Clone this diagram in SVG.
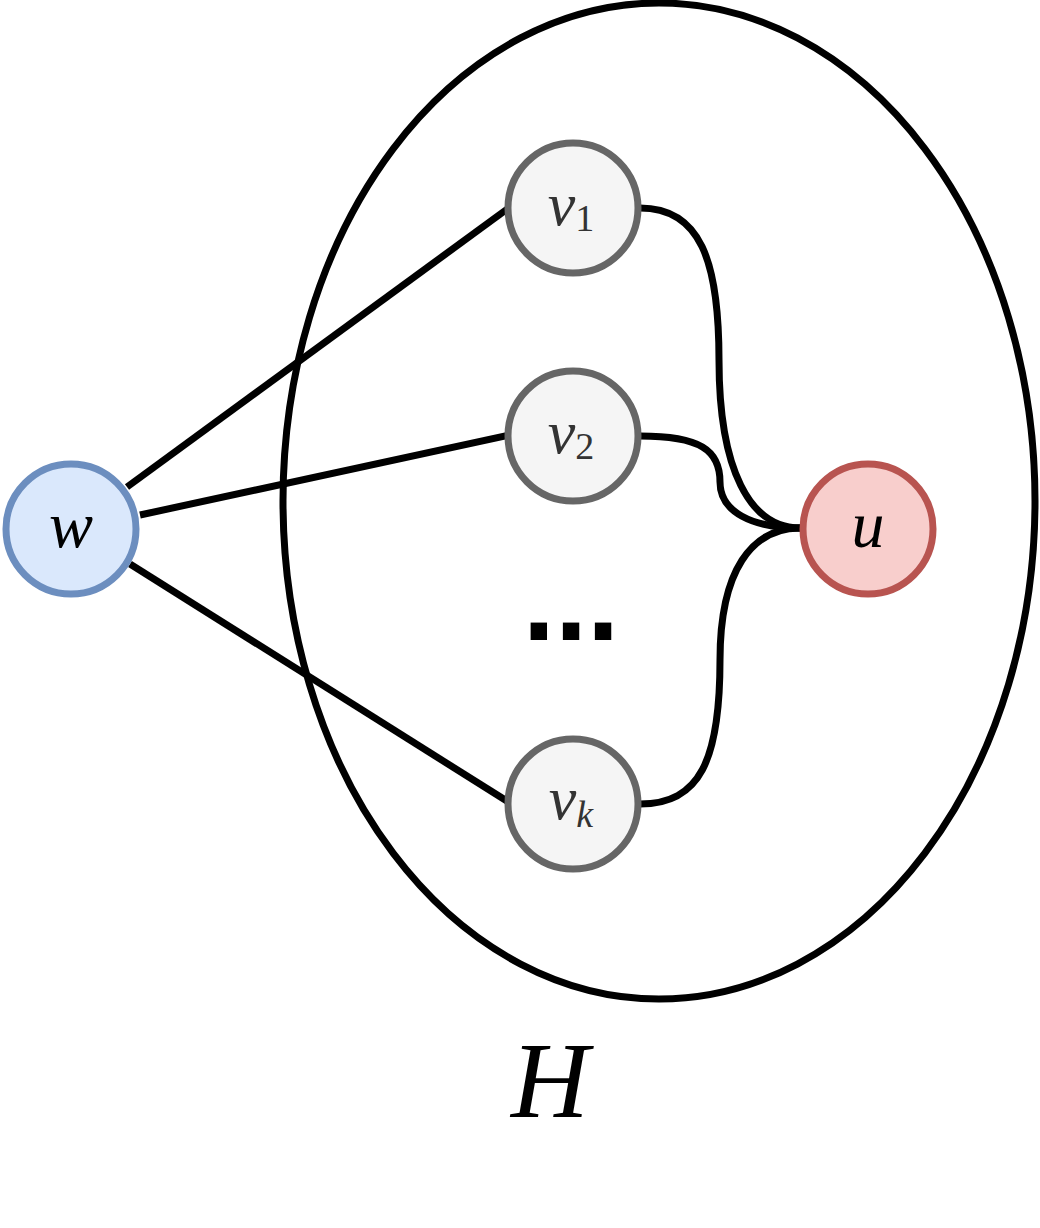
<svg xmlns="http://www.w3.org/2000/svg" width="1040" height="1228" viewBox="0 0 1040 1228">
  <style>
    .edge { fill: none; stroke: #000000; stroke-width: 7; }
    .node circle { stroke-width: 7; }
    .blue circle { fill: #dae8fc; stroke: #6c8ebf; }
    .gray circle { fill: #f5f5f5; stroke: #666666; }
    .red circle { fill: #f8cecc; stroke: #b85450; }
    .lbl { font-family: "Liberation Serif", "DejaVu Serif", serif; font-style: italic; text-anchor: middle; }
    .gray .lbl { fill: #333333; }
    .sub { font-style: normal; font-size: 38px; }
    .sub.it { font-style: italic; }
  </style>
  <rect width="1040" height="1228" fill="#ffffff"/>

  <!-- container region H -->
  <g id="H">
    <ellipse cx="659" cy="501" rx="376" ry="498" fill="none" stroke="#000000" stroke-width="7"/>
    <text class="lbl" x="550" y="1117" font-size="108">H</text>
  </g>

  <!-- connectors -->
  <g id="edges">
    <path class="edge" d="M127,487 L510,207"/>
    <path class="edge" d="M140,515 L510,435"/>
    <path class="edge" d="M130,564 L510,803"/>
    <path class="edge" d="M640,208 C700,208 719,260 719,360 C719,470 750,528 800,528"/>
    <path class="edge" d="M640,436 C700,436 720,450 720,482 C720,512 752,528 800,528"/>
    <path class="edge" d="M640,804 C700,804 720,760 720,660 C720,570 752,528 800,528"/>
  </g>

  <g id="w" class="node blue">
    <circle cx="71" cy="529" r="65"/>
    <text class="lbl" x="71" y="547" font-size="66">w</text>
  </g>

  <g id="v1" class="node gray">
    <circle cx="573" cy="208" r="65"/>
    <text class="lbl" x="571" y="225" font-size="62">v<tspan class="sub" dy="6">1</tspan></text>
  </g>

  <g id="v2" class="node gray">
    <circle cx="573" cy="436" r="65"/>
    <text class="lbl" x="571" y="453" font-size="62">v<tspan class="sub" dy="6">2</tspan></text>
  </g>

  <g id="vk" class="node gray">
    <circle cx="573" cy="804" r="65"/>
    <text class="lbl" x="571" y="819" font-size="62">v<tspan class="sub it" dy="8">k</tspan></text>
  </g>

  <g id="u" class="node red">
    <circle cx="868" cy="529" r="65"/>
    <text class="lbl" x="868" y="547" font-size="66">u</text>
  </g>

  <!-- ellipsis between v2 and vk -->
  <g id="dots">
    <text x="571" y="640" font-family="Liberation Sans, Arial, sans-serif" font-weight="bold" font-size="116" text-anchor="middle">...</text>
  </g>
</svg>
